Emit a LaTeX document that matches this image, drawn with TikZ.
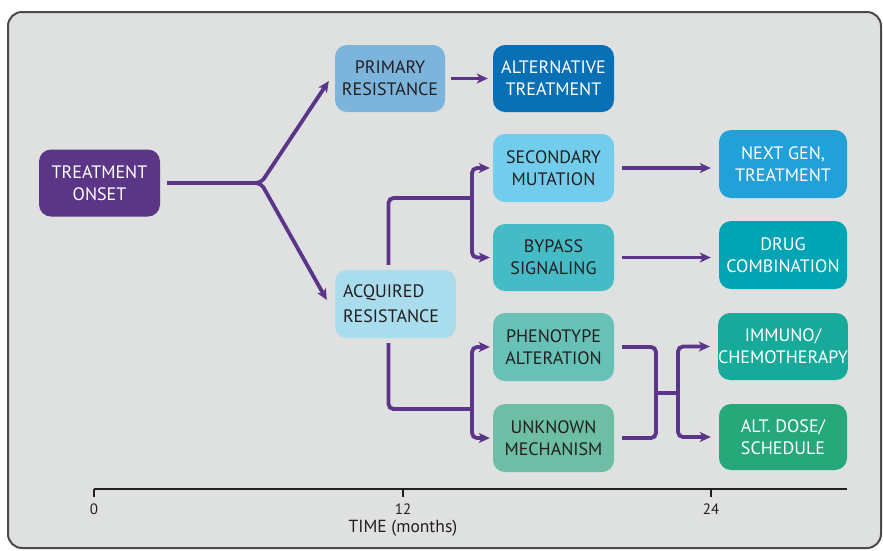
\documentclass[tikz,border=0pt]{standalone}
\usepackage{fontspec}
\setmainfont{PT Sans}
\usepackage{tikz}
\usetikzlibrary{arrows.meta}
\usepackage{xcolor}
\definecolor{panel}{HTML}{DFE0E0}
\definecolor{frame}{HTML}{4A4A4A}
\definecolor{ink}{HTML}{231F20}
\definecolor{flow}{HTML}{5B3589}
\definecolor{onsetc}{HTML}{5C3686}
\definecolor{primc}{HTML}{7DB4DC}
\definecolor{altc}{HTML}{0A70B6}
\definecolor{secc}{HTML}{72CCEC}
\definecolor{nextc}{HTML}{22A0D8}
\definecolor{bypc}{HTML}{45BBC6}
\definecolor{drugc}{HTML}{00A4B3}
\definecolor{acqc}{HTML}{A9DCEC}
\definecolor{phenc}{HTML}{68C1B7}
\definecolor{unkc}{HTML}{6DBEA5}
\definecolor{immc}{HTML}{17A99A}
\definecolor{dosec}{HTML}{26A87B}

\begin{document}
\begin{tikzpicture}[x=1pt,y=-1pt,>={Stealth[length=11pt,width=10pt,inset=3pt]},every node/.style={align=center,inner sep=2pt},box/.style={rounded corners=12pt,minimum width=121pt,minimum height=67pt,text=ink,font=\fontsize{18}{22}\selectfont},wbox/.style={box,text=white},link/.style={draw=flow,line width=3.8pt,rounded corners=5pt},ticklabel/.style={text=ink,font=\fontsize{15}{17}\selectfont}]
\useasboundingbox (0,0) rectangle (883,550);
\draw[fill=panel,draw=frame,line width=2pt,rounded corners=14pt] (8,12) rectangle (881,548);
% boxes
\node[wbox,fill=onsetc](onset) at (99.5,183){TREATMENT\\ONSET};
\node[box,fill=primc,minimum width=110pt](primary) at (390,78.5){PRIMARY\\RESISTANCE};
\node[wbox,fill=altc](alt) at (553.5,78.5){ALTERNATIVE\\TREATMENT};
\node[box,fill=acqc,align=left,minimum height=68pt,font=\fontsize{18}{25}\selectfont,text width=105pt,inner xsep=8pt](acquired) at (395.5,304){ACQUIRED\\RESISTANCE};
\node[box,fill=secc,minimum height=68pt](secmut) at (553.5,168){SECONDARY\\MUTATION};
\node[box,fill=bypc](bypass) at (553.5,257.5){BYPASS\\SIGNALING};
\node[box,fill=phenc,minimum height=68pt](pheno) at (553.5,347){PHENOTYPE\\ALTERATION};
\node[box,fill=unkc,minimum height=68pt](unknown) at (553.5,438){UNKNOWN\\MECHANISM};
\node[wbox,fill=nextc,minimum width=128pt,minimum height=68pt](nextgen) at (783,164){NEXT GEN,\\TREATMENT};
\node[wbox,fill=drugc,minimum width=128pt,minimum height=68pt](drugcomb) at (783,255){DRUG\\COMBINATION};
\node[wbox,fill=immc,minimum width=128pt,inner xsep=0pt](immuno) at (783,346.5){IMMUNO/\\CHEMOTHERAPY};
\node[wbox,fill=dosec,minimum width=128pt,minimum height=66pt](altdose) at (783,437){ALT. DOSE/\\SCHEDULE};
% branch points
\coordinate(split) at (261,183);
\coordinate(ubus) at (472,198);
\coordinate(lbus) at (472,409);
\coordinate(mleft) at (656,393);
\coordinate(mright) at (678,393);
% connectors
\draw[link,->,shorten <=7pt](onset.east)--(split)--([xshift=-6pt,yshift=-2.5pt]primary.west);
\draw[link,->,shorten <=7pt](onset.east)--(split)--([xshift=-8pt,yshift=4pt]acquired.west);
\draw[link,->,shorten <=6pt,shorten >=5pt](primary.east)--(alt.west);
\draw[link,shorten <=5pt]([xshift=-7pt]acquired.north)|-(ubus);\draw[link,->,shorten >=3pt](ubus)|-(secmut.west);\draw[link,->,shorten >=3pt](ubus)|-(bypass.west);
\draw[link,shorten <=5pt]([xshift=-7pt]acquired.south)|-(lbus);\draw[link,->,shorten >=3pt](lbus)|-(pheno.west);\draw[link,->,shorten >=3pt](lbus)|-(unknown.west);
\draw[link,->,shorten <=8pt,shorten >=8pt](secmut.east)--(secmut.east-|nextgen.west);
\draw[link,->,shorten <=8pt,shorten >=8pt](bypass.east)--(bypass.east-|drugcomb.west);
\draw[link,shorten <=8pt](pheno.east)-|(mleft);\draw[link,shorten <=8pt](unknown.east)-|(mleft);\draw[link](mleft)--(mright);
\draw[link,->,shorten >=8pt](mright)|-(immuno.west);\draw[link,->,shorten >=8pt](mright)|-(altdose.west);
% time axis
\draw[ink,line width=1.8pt](94,489)--(847,489);
\foreach \x/\m in {94/0,403/12,711/24}{\draw[ink,line width=1.2pt](\x,489)--(\x,497);\node[ticklabel](t\m) at (\x,509){\m};}
\node[ticklabel,font=\fontsize{17.5}{20}\selectfont](timelbl) at (403,528){TIME (months)};
\end{tikzpicture}
\end{document}
